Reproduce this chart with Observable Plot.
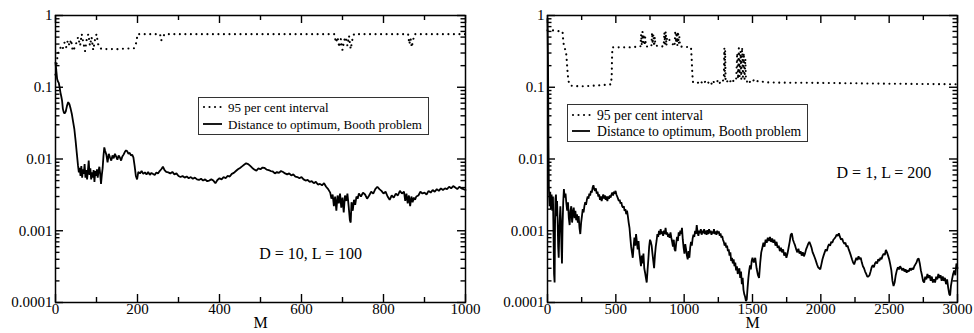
<!DOCTYPE html>
<html><head><meta charset="utf-8">
<script src="https://cdn.jsdelivr.net/npm/d3@7"></script>
<script src="https://cdn.jsdelivr.net/npm/@observablehq/plot@0.6"></script>
<style>
body{margin:0;background:#fff}
#wrap{position:relative;width:974px;height:333px;font-family:"Liberation Serif","Times New Roman",serif;color:#000}
.panel{position:absolute;top:0}
.legend{position:absolute;border:1px solid #333;background:#fff;box-sizing:border-box}
.legend svg{position:absolute}
</style></head><body><div id="wrap"></div>
<script>
// ---------- data ----------
const yTicks = [1, 0.1, 0.01, 0.001, 0.0001];
const yTickLabels = ["1", "0.1", "0.01", "0.001", "0.0001"];
const yMinorTicks = [0.0002,0.0003,0.0004,0.0005,0.0006,0.0007,0.0008,0.0009,
  0.002,0.003,0.004,0.005,0.006,0.007,0.008,0.009,
  0.02,0.03,0.04,0.05,0.06,0.07,0.08,0.09,
  0.2,0.3,0.4,0.5,0.6,0.7,0.8,0.9];
const leftXTicks = [0, 200, 400, 600, 800, 1000];
const leftXTickLabels = ["0", "200", "400", "600", "800", "1000"];
const leftXMinor = [100, 300, 500, 700, 900];
const rightXTicks = [0, 500, 1000, 1500, 2000, 2500, 3000];
const rightXTickLabels = ["0", "500", "1000", "1500", "2000", "2500", "3000"];
const rightXMinor = [250, 750, 1250, 1750, 2250, 2750];
const seriesNames = ["95 per cent interval", "Distance to optimum, Booth problem"];
const notes = ["D = 10, L = 100", "D = 1, L = 200"];

// left panel (D = 10, L = 100): [M, value]
const leftInterval = [[0,0.15],[3,0.22],[6,0.3],[10,0.33],[14,0.38],[18,0.35],[22,0.42],[26,0.36],[30,0.45],[34,0.38],[38,0.46],[42,0.32],[46,0.35],[50,0.4],[55,0.5],[60,0.38],[64,0.55],[68,0.42],[72,0.32],[76,0.46],[80,0.55],[84,0.38],[88,0.5],[92,0.33],[96,0.45],[100,0.55],[104,0.4],[108,0.35],[115,0.34],[150,0.34],[192,0.35],[196,0.4],[198,0.45],[200,0.55],[255,0.55],[258,0.45],[262,0.5],[266,0.55],[680,0.55],[684,0.42],[688,0.5],[692,0.36],[696,0.47],[700,0.33],[704,0.45],[708,0.5],[712,0.38],[716,0.52],[720,0.34],[724,0.46],[728,0.55],[860,0.55],[863,0.4],[866,0.48],[869,0.36],[872,0.45],[876,0.55],[1000,0.55]];
const leftDistance = [[0,0.22],[2,0.17],[4,0.13],[6,0.12],[8,0.115],[10,0.1],[12,0.085],[14,0.075],[16,0.065],[18,0.05],[20,0.045],[22,0.043],[25,0.046],[28,0.055],[31,0.062],[34,0.058],[37,0.05],[40,0.042],[43,0.033],[46,0.026],[49,0.018],[52,0.012],[55,0.008],[57,0.0065],[59,0.0075],[61,0.0058],[63,0.008],[65,0.0055],[67,0.0072],[69,0.0062],[71,0.0085],[73,0.0055],[75,0.007],[77,0.0052],[79,0.0068],[81,0.0095],[83,0.006],[85,0.0074],[87,0.0052],[89,0.0065],[91,0.0055],[93,0.007],[95,0.0048],[97,0.0068],[99,0.0058],[101,0.0072],[103,0.0055],[105,0.0068],[107,0.0078],[109,0.0062],[111,0.0045],[113,0.006],[115,0.0075],[117,0.011],[119,0.0145],[121,0.013],[124,0.0115],[127,0.009],[130,0.0118],[133,0.0105],[136,0.0095],[139,0.0112],[142,0.0102],[145,0.0118],[148,0.0108],[151,0.0098],[154,0.0112],[157,0.0105],[160,0.0095],[163,0.0108],[166,0.0115],[169,0.0125],[172,0.0132],[175,0.0128],[178,0.0118],[181,0.0122],[184,0.0112],[187,0.0115],[190,0.0105],[193,0.008],[196,0.0058],[199,0.0052],[202,0.0066],[206,0.0063],[210,0.0068],[214,0.0062],[218,0.0065],[222,0.0061],[226,0.0066],[230,0.006],[234,0.0064],[238,0.0062],[242,0.006],[246,0.0065],[250,0.0063],[254,0.0068],[258,0.0072],[262,0.0078],[266,0.007],[270,0.0066],[275,0.0065],[280,0.0063],[285,0.0066],[290,0.0061],[295,0.0063],[300,0.0058],[305,0.0056],[310,0.0058],[315,0.0055],[320,0.0057],[325,0.0054],[330,0.0056],[335,0.0053],[340,0.0055],[345,0.0052],[350,0.0051],[355,0.0053],[360,0.005],[365,0.0052],[370,0.0049],[375,0.005],[380,0.0052],[385,0.005],[390,0.0046],[395,0.0051],[400,0.0054],[405,0.0052],[410,0.0056],[415,0.0054],[420,0.0058],[425,0.0057],[430,0.0062],[435,0.0064],[440,0.0068],[445,0.0072],[450,0.0075],[455,0.0079],[460,0.0083],[465,0.0087],[470,0.0085],[475,0.008],[480,0.0075],[485,0.0071],[490,0.0069],[495,0.0074],[500,0.0072],[505,0.0076],[510,0.0075],[515,0.0071],[520,0.007],[525,0.0068],[530,0.0067],[535,0.0063],[540,0.0066],[545,0.0064],[550,0.0068],[555,0.0066],[560,0.0063],[565,0.0061],[570,0.0063],[575,0.0059],[580,0.0061],[585,0.0057],[590,0.0056],[595,0.0054],[600,0.0056],[605,0.0052],[610,0.005],[615,0.0051],[620,0.0048],[625,0.0049],[630,0.0046],[635,0.0048],[640,0.0044],[645,0.0045],[650,0.0043],[655,0.0046],[660,0.0041],[665,0.0038],[670,0.0034],[673,0.0028],[676,0.0032],[679,0.0022],[682,0.003],[685,0.0019],[688,0.0031],[691,0.0024],[694,0.0033],[697,0.0021],[700,0.0029],[703,0.0018],[706,0.0031],[709,0.0026],[712,0.0033],[715,0.0022],[718,0.0014],[720,0.0013],[722,0.0025],[725,0.0019],[728,0.0027],[731,0.0023],[734,0.003],[737,0.0028],[740,0.0033],[745,0.003],[750,0.0034],[755,0.0032],[760,0.0028],[765,0.0031],[770,0.0035],[775,0.0033],[780,0.0038],[785,0.0041],[790,0.0038],[795,0.0036],[800,0.0033],[805,0.0035],[810,0.003],[815,0.0027],[820,0.0031],[825,0.0029],[830,0.0033],[835,0.0031],[840,0.0036],[845,0.0033],[850,0.0035],[853,0.0026],[856,0.0033],[859,0.0024],[862,0.0031],[865,0.0022],[868,0.003],[871,0.0025],[874,0.0029],[877,0.0027],[880,0.003],[885,0.0031],[890,0.0035],[895,0.0033],[900,0.0034],[905,0.0032],[910,0.0036],[915,0.0034],[920,0.0037],[925,0.0035],[930,0.0038],[935,0.0036],[940,0.0039],[945,0.0037],[950,0.0039],[955,0.0038],[960,0.0041],[965,0.0039],[970,0.0042],[975,0.004],[980,0.0038],[985,0.0041],[990,0.0039],[995,0.0038],[1000,0.0037]];

// right panel (D = 1, L = 200): [M, value]
const rightInterval = [[0,0.62],[40,0.62],[100,0.6],[110,0.6],[115,0.45],[120,0.38],[125,0.35],[135,0.32],[140,0.25],[145,0.18],[150,0.14],[155,0.12],[160,0.11],[170,0.105],[250,0.103],[330,0.105],[400,0.107],[465,0.11],[470,0.15],[472,0.25],[475,0.36],[600,0.36],[680,0.37],[685,0.55],[690,0.38],[695,0.6],[700,0.42],[705,0.55],[710,0.38],[715,0.5],[720,0.37],[760,0.37],[765,0.58],[770,0.4],[775,0.55],[780,0.37],[785,0.5],[790,0.38],[850,0.37],[855,0.58],[860,0.4],[865,0.6],[870,0.38],[875,0.5],[930,0.37],[935,0.62],[940,0.42],[945,0.58],[950,0.38],[955,0.6],[960,0.4],[965,0.5],[970,0.37],[1050,0.36],[1055,0.25],[1060,0.15],[1065,0.117],[1100,0.115],[1110,0.12],[1120,0.113],[1130,0.118],[1140,0.112],[1150,0.12],[1160,0.115],[1170,0.122],[1180,0.114],[1190,0.12],[1200,0.112],[1210,0.125],[1220,0.115],[1230,0.12],[1240,0.118],[1250,0.128],[1260,0.115],[1270,0.124],[1280,0.12],[1290,0.13],[1294,0.35],[1297,0.13],[1300,0.33],[1303,0.12],[1310,0.125],[1320,0.118],[1330,0.127],[1340,0.12],[1350,0.13],[1360,0.122],[1370,0.128],[1380,0.125],[1388,0.3],[1394,0.13],[1400,0.35],[1406,0.14],[1412,0.32],[1418,0.13],[1424,0.36],[1430,0.14],[1436,0.3],[1442,0.13],[1448,0.25],[1452,0.125],[1460,0.12],[1470,0.128],[1480,0.118],[1490,0.125],[1500,0.12],[1510,0.126],[1520,0.118],[1535,0.122],[1550,0.118],[1570,0.12],[1600,0.117],[1700,0.116],[2000,0.115],[2500,0.112],[3000,0.11]];
const rightDistance = [[0,0.9],[4,0.2],[7,0.02],[10,0.004],[15,0.0022],[20,0.0035],[25,0.002],[30,0.0032],[35,0.0019],[40,0.003],[44,0.0009],[48,0.00025],[52,0.00019],[55,0.0011],[58,0.0028],[62,0.0032],[66,0.0016],[70,0.0026],[74,0.0014],[78,0.0006],[82,0.00042],[86,0.0009],[90,0.0015],[94,0.0022],[98,0.0014],[102,0.0006],[106,0.00035],[110,0.0011],[115,0.0025],[120,0.0038],[126,0.0029],[132,0.0033],[138,0.0024],[144,0.0019],[150,0.0025],[156,0.0015],[162,0.0012],[168,0.0019],[174,0.0022],[180,0.0013],[186,0.0018],[192,0.0021],[198,0.0015],[204,0.0019],[210,0.0014],[216,0.0017],[222,0.0013],[228,0.0016],[234,0.0011],[240,0.0009],[246,0.0013],[252,0.0016],[258,0.002],[264,0.0018],[270,0.0022],[276,0.0025],[282,0.0023],[288,0.0027],[294,0.003],[300,0.0028],[306,0.0033],[312,0.0031],[318,0.0036],[324,0.0034],[330,0.004],[336,0.0043],[342,0.0038],[348,0.0036],[354,0.0039],[360,0.0033],[366,0.0035],[372,0.003],[378,0.0032],[384,0.0027],[390,0.003],[396,0.0026],[402,0.0029],[408,0.0032],[414,0.0028],[420,0.0031],[426,0.0027],[432,0.003],[438,0.0026],[444,0.003],[450,0.0028],[456,0.0031],[462,0.0029],[468,0.0032],[474,0.0034],[480,0.0031],[486,0.0035],[492,0.0033],[498,0.0036],[504,0.0032],[510,0.003],[516,0.0028],[522,0.0026],[528,0.0027],[534,0.0024],[540,0.0025],[546,0.0022],[552,0.0021],[558,0.0022],[564,0.0019],[570,0.002],[576,0.0017],[582,0.0019],[588,0.0016],[594,0.0013],[600,0.0011],[606,0.0008],[612,0.0006],[618,0.0005],[624,0.00042],[630,0.0006],[636,0.0008],[642,0.00062],[648,0.0009],[654,0.0007],[660,0.00055],[666,0.00072],[672,0.0005],[678,0.0004],[684,0.00032],[690,0.00045],[696,0.00035],[702,0.00048],[708,0.0003],[714,0.00026],[720,0.00022],[726,0.00019],[732,0.00028],[738,0.0004],[744,0.0006],[750,0.00075],[756,0.0007],[762,0.00062],[768,0.00048],[774,0.00038],[780,0.0003],[786,0.00045],[792,0.0006],[798,0.00072],[804,0.0009],[810,0.00082],[816,0.001],[822,0.00088],[828,0.00105],[834,0.0009],[840,0.00098],[846,0.00085],[852,0.001],[858,0.0009],[864,0.0011],[870,0.00088],[876,0.00095],[882,0.00082],[888,0.0009],[894,0.0008],[900,0.00095],[906,0.0008],[912,0.0007],[918,0.0006],[924,0.00075],[930,0.00055],[936,0.00052],[942,0.00068],[948,0.00082],[954,0.00072],[960,0.00095],[966,0.00085],[972,0.001],[978,0.0009],[984,0.0011],[990,0.00075],[996,0.00058],[1002,0.00048],[1008,0.00065],[1014,0.00055],[1020,0.00045],[1026,0.0004],[1032,0.00052],[1038,0.00042],[1044,0.00058],[1050,0.0007],[1056,0.00062],[1062,0.00078],[1068,0.00088],[1074,0.00082],[1080,0.001],[1086,0.0009],[1092,0.0012],[1098,0.00095],[1104,0.00085],[1110,0.001],[1116,0.00092],[1122,0.00105],[1128,0.00088],[1134,0.001],[1140,0.00092],[1146,0.00105],[1152,0.0009],[1158,0.001],[1164,0.00088],[1170,0.00102],[1176,0.0009],[1182,0.00105],[1188,0.00092],[1194,0.001],[1200,0.00088],[1206,0.00098],[1212,0.00092],[1218,0.00105],[1224,0.0009],[1230,0.00098],[1236,0.00088],[1242,0.001],[1248,0.00092],[1254,0.00098],[1260,0.00085],[1266,0.00092],[1272,0.0008],[1278,0.00085],[1284,0.00075],[1290,0.0007],[1296,0.00062],[1302,0.00068],[1308,0.00058],[1314,0.00062],[1320,0.00052],[1326,0.00055],[1332,0.00045],[1338,0.0005],[1344,0.00038],[1350,0.00042],[1356,0.00035],[1362,0.0004],[1368,0.00032],[1374,0.00036],[1380,0.00028],[1386,0.00032],[1392,0.00025],[1398,0.00028],[1404,0.0003],[1410,0.00022],[1416,0.00027],[1422,0.00018],[1428,0.00022],[1434,0.00015],[1440,0.00013],[1446,0.00012],[1452,0.000105],[1458,0.00011],[1464,0.00016],[1470,0.00022],[1476,0.00028],[1482,0.00033],[1488,0.00029],[1494,0.00038],[1500,0.00042],[1510,0.00036],[1520,0.00042],[1530,0.0003],[1540,0.00024],[1548,0.00022],[1556,0.00035],[1564,0.0005],[1572,0.00058],[1580,0.00068],[1588,0.0006],[1596,0.00075],[1604,0.00068],[1612,0.0008],[1620,0.00072],[1628,0.00082],[1636,0.0007],[1644,0.00078],[1652,0.00068],[1660,0.00075],[1668,0.00062],[1676,0.0007],[1684,0.00058],[1692,0.00062],[1700,0.00052],[1708,0.00058],[1716,0.0005],[1724,0.00055],[1732,0.00045],[1740,0.0005],[1748,0.00042],[1756,0.00048],[1764,0.00058],[1772,0.0007],[1780,0.00088],[1788,0.00092],[1796,0.00075],[1804,0.00068],[1812,0.00062],[1820,0.00055],[1828,0.0005],[1836,0.00056],[1844,0.00048],[1852,0.00052],[1860,0.00045],[1868,0.0005],[1876,0.00044],[1884,0.00048],[1892,0.00055],[1900,0.0006],[1908,0.00066],[1916,0.0007],[1924,0.00064],[1932,0.00058],[1940,0.0005],[1948,0.00046],[1956,0.00042],[1964,0.00038],[1972,0.00034],[1980,0.00031],[1988,0.0003],[1996,0.00029],[2004,0.00034],[2012,0.0004],[2020,0.00045],[2028,0.0005],[2036,0.00055],[2044,0.00052],[2052,0.0006],[2060,0.00065],[2068,0.00062],[2076,0.0007],[2084,0.00068],[2092,0.00075],[2100,0.00078],[2108,0.00082],[2116,0.00088],[2124,0.00085],[2132,0.00092],[2140,0.00082],[2148,0.00075],[2156,0.00078],[2164,0.0007],[2172,0.00066],[2180,0.00068],[2188,0.0006],[2196,0.00062],[2204,0.00055],[2212,0.0005],[2220,0.00045],[2228,0.0004],[2236,0.00036],[2244,0.00034],[2252,0.00038],[2260,0.00042],[2268,0.00039],[2276,0.00044],[2284,0.0004],[2292,0.00042],[2300,0.00036],[2308,0.00032],[2316,0.0003],[2324,0.00027],[2332,0.00025],[2340,0.00023],[2348,0.00023],[2356,0.00024],[2364,0.00027],[2372,0.00031],[2380,0.00033],[2388,0.00031],[2396,0.00035],[2404,0.00037],[2412,0.00035],[2420,0.0004],[2428,0.00038],[2436,0.00042],[2444,0.0004],[2452,0.00045],[2460,0.00048],[2468,0.00046],[2476,0.00054],[2484,0.0005],[2492,0.00045],[2500,0.0004],[2508,0.00034],[2516,0.00028],[2524,0.0002],[2532,0.00017],[2540,0.00019],[2548,0.00024],[2556,0.00028],[2564,0.00031],[2572,0.00029],[2580,0.00032],[2588,0.0003],[2596,0.00028],[2604,0.0003],[2612,0.00027],[2620,0.00029],[2628,0.00026],[2636,0.00028],[2644,0.00027],[2652,0.0003],[2660,0.00028],[2668,0.0003],[2676,0.00029],[2684,0.00032],[2692,0.00034],[2700,0.00036],[2708,0.0004],[2716,0.00041],[2724,0.00035],[2732,0.00028],[2740,0.00024],[2748,0.0002],[2756,0.00019],[2764,0.00023],[2772,0.00021],[2780,0.00025],[2788,0.00022],[2796,0.00024],[2804,0.0002],[2812,0.00023],[2820,0.00019],[2828,0.00021],[2836,0.00019],[2844,0.00023],[2852,0.00021],[2860,0.00025],[2868,0.00022],[2876,0.00024],[2884,0.0002],[2892,0.00023],[2900,0.0002],[2908,0.00022],[2916,0.00018],[2924,0.00021],[2932,0.00016],[2940,0.00013],[2946,0.000125],[2952,0.00017],[2960,0.00021],[2968,0.00025],[2976,0.00028],[2984,0.00024],[2992,0.00035],[3000,0.0003]];

// ---------- drawing ----------
const FONT = "'Liberation Serif', 'Times New Roman', serif";
const DOTS = "0.01,5.5";
const toObj = arr => arr.map(([M, v]) => ({M, v}));

function panel(o) {
  const W = 487, H = 333, mt = 15, mb = 31;
  const iw = W - o.marginLeft - o.marginRight, ih = H - mt - mb;
  const xLab = new Map(o.xTicks.map((d, i) => [d, o.xLabels[i]]));
  const yLab = new Map(yTicks.map((d, i) => [d, yTickLabels[i]]));
  const tk = {stroke: "black", strokeWidth: 1.4};
  return Plot.plot({
    width: W, height: H,
    marginLeft: o.marginLeft, marginRight: o.marginRight, marginTop: mt, marginBottom: mb,
    style: {fontFamily: FONT, background: "white", color: "black", overflow: "visible"},
    x: {domain: o.xDomain},
    y: {type: "log", domain: [1e-4, 1]},
    marks: [
      Plot.line(toObj(o.interval), {x: "M", y: "v", stroke: "black", strokeWidth: 2.1, strokeLinecap: "round", strokeDasharray: DOTS}),
      Plot.line(toObj(o.distance), {x: "M", y: "v", stroke: "black", strokeWidth: 1.8, strokeLinejoin: "miter"}),
      Plot.frame({stroke: "black", strokeWidth: 1.5}),
      Plot.tickX(o.xTicks, {x: d => d, insetTop: ih - 8, ...tk}),
      Plot.tickX(o.xTicks, {x: d => d, insetBottom: ih - 8, ...tk}),
      Plot.tickX(o.xMinor, {x: d => d, insetTop: ih - 5, ...tk}),
      Plot.tickX(o.xMinor, {x: d => d, insetBottom: ih - 5, ...tk}),
      Plot.tickY(yTicks, {y: d => d, insetRight: iw - 8, ...tk}),
      Plot.tickY(yTicks, {y: d => d, insetLeft: iw - 8, ...tk}),
      Plot.tickY(yMinorTicks, {y: d => d, insetRight: iw - 4.5, ...tk}),
      Plot.tickY(yMinorTicks, {y: d => d, insetLeft: iw - 4.5, ...tk}),
      Plot.axisX(o.xTicks, {tickSize: 0, tickPadding: 1, label: null, tickFormat: d => xLab.get(d), fontSize: 15, fontFamily: FONT}),
      Plot.axisY(yTicks, {tickSize: 0, tickPadding: 3, label: null, tickFormat: d => yLab.get(d), fontSize: 15, fontFamily: FONT}),
      Plot.text(["M"], {frameAnchor: "bottom", dy: 25, fontSize: 16, fontFamily: FONT, fill: "black"}),
      Plot.text([o.note], {x: o.noteX, y: o.noteY, text: d => d, textAnchor: "start", fontSize: 16, fontFamily: FONT, fill: "black"})
    ]
  });
}

function legend(left, top, width, height, fs, sampleX, sampleW, textX, row1, row2) {
  const d = document.createElement("div");
  d.className = "legend";
  Object.assign(d.style, {left: left + "px", top: top + "px", width: width + "px", height: height + "px"});
  d.innerHTML = `
    <svg width="${width}" height="${height}" style="left:-1px;top:-1px">
      <line x1="${sampleX + 1}" x2="${sampleX + sampleW}" y1="${row1}" y2="${row1}" stroke="black" stroke-width="2.1" stroke-linecap="round" stroke-dasharray="${DOTS}"/>
      <line x1="${sampleX}" x2="${sampleX + sampleW}" y1="${row2}" y2="${row2}" stroke="black" stroke-width="1.8"/>
      <text x="${textX}" y="${row1}" dominant-baseline="central" style="font-family:${FONT};font-size:${fs}px">${seriesNames[0]}</text>
      <text x="${textX}" y="${row2}" dominant-baseline="central" style="font-family:${FONT};font-size:${fs}px">${seriesNames[1]}</text>
    </svg>`;
  return d;
}

const wrap = document.getElementById("wrap");
const p1 = document.createElement("div"); p1.className = "panel"; p1.style.left = "0px";
p1.appendChild(panel({marginLeft: 55, marginRight: 22, xDomain: [0, 1000], xTicks: leftXTicks, xLabels: leftXTickLabels, xMinor: leftXMinor,
  interval: leftInterval, distance: leftDistance, note: notes[0], noteX: 497, noteY: 0.00048}));
const p2 = document.createElement("div"); p2.className = "panel"; p2.style.left = "487px";
p2.appendChild(panel({marginLeft: 60, marginRight: 17, xDomain: [0, 3000], xTicks: rightXTicks, xLabels: rightXTickLabels, xMinor: rightXMinor,
  interval: rightInterval, distance: rightDistance, note: notes[1], noteX: 2115, noteY: 0.0064}));
wrap.appendChild(p1);
wrap.appendChild(p2);
wrap.appendChild(legend(198, 97, 231, 38, 13, 5, 19, 30, 10, 27));
wrap.appendChild(legend(567, 104, 241, 38, 13.7, 5, 18, 30, 11, 27));
</script></body></html>
